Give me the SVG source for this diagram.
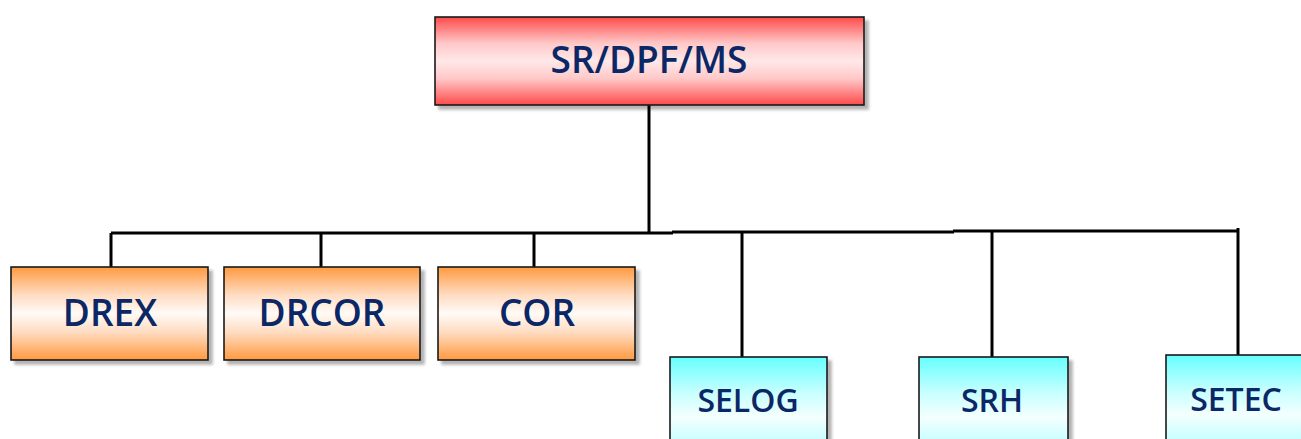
<svg xmlns="http://www.w3.org/2000/svg" width="1301" height="439" viewBox="0 0 1301 439">
  <defs>
    <linearGradient id="gRed" x1="0" y1="0" x2="0" y2="1">
      <stop offset="0" stop-color="#ff4a4a"/>
      <stop offset="0.3" stop-color="#ffc8c8"/>
      <stop offset="0.5" stop-color="#ffe8e8"/>
      <stop offset="0.7" stop-color="#ffc8c8"/>
      <stop offset="1" stop-color="#ff4a4a"/>
    </linearGradient>
    <linearGradient id="gOrange" x1="0" y1="0" x2="0" y2="1">
      <stop offset="0" stop-color="#ff9a40"/>
      <stop offset="0.3" stop-color="#ffdcc2"/>
      <stop offset="0.5" stop-color="#fffaf6"/>
      <stop offset="0.7" stop-color="#ffdcc2"/>
      <stop offset="1" stop-color="#ff9a40"/>
    </linearGradient>
    <linearGradient id="gCyanBox" x1="0" y1="0" x2="0" y2="1">
      <stop offset="0" stop-color="#66ffff"/>
      <stop offset="0.3" stop-color="#c8ffff"/>
      <stop offset="0.5" stop-color="#f4ffff"/>
      <stop offset="0.7" stop-color="#c8ffff"/>
      <stop offset="1" stop-color="#66ffff"/>
    </linearGradient>
    <filter id="shadow" x="-10%" y="-10%" width="130%" height="130%">
      <feGaussianBlur in="SourceAlpha" stdDeviation="1.5"/>
      <feOffset dx="4" dy="4" result="b"/>
      <feComponentTransfer><feFuncA type="linear" slope="0.3"/></feComponentTransfer>
      <feMerge><feMergeNode/><feMergeNode in="SourceGraphic"/></feMerge>
    </filter>
  </defs>
  <style>
    .box { stroke: #1a1a1a; stroke-width: 1.6; filter: url(#shadow); }
    .lbl { font-family: "Open Sans", "DejaVu Sans", sans-serif; font-weight: 600; fill: #0b2766; text-anchor: middle; }
    .conn { stroke: #000; stroke-width: 3; fill: none; }
  </style>

  <g id="connectors">
    <line class="conn" x1="649" y1="105" x2="649" y2="233"/>
    <line class="conn" x1="111" y1="233" x2="673" y2="233"/>
    <line class="conn" x1="672" y1="232" x2="954" y2="232"/>
    <line class="conn" x1="953" y1="231" x2="1239" y2="231"/>
    <line class="conn" x1="111" y1="233" x2="111" y2="267"/>
    <line class="conn" x1="321" y1="233" x2="321" y2="267"/>
    <line class="conn" x1="534" y1="233" x2="534" y2="267"/>
    <line class="conn" x1="742" y1="232" x2="742" y2="357"/>
    <line class="conn" x1="992" y1="231" x2="992" y2="357"/>
    <line class="conn" x1="1238" y1="228" x2="1238" y2="355"/>
  </g>

  <g id="node-srdpfms">
    <rect class="box" x="435" y="17" width="429" height="88" fill="url(#gRed)"/>
    <text class="lbl" x="649" y="73" font-size="37">SR/DPF/MS</text>
  </g>

  <g id="node-drex">
    <rect class="box" x="11" y="267" width="197" height="93" fill="url(#gOrange)"/>
    <text class="lbl" x="110" y="326" font-size="37">DREX</text>
  </g>

  <g id="node-drcor">
    <rect class="box" x="224" y="267" width="196" height="93" fill="url(#gOrange)"/>
    <text class="lbl" x="322" y="326" font-size="37">DRCOR</text>
  </g>

  <g id="node-cor">
    <rect class="box" x="438" y="267" width="197" height="93" fill="url(#gOrange)"/>
    <text class="lbl" x="537" y="326" font-size="37">COR</text>
  </g>

  <g id="node-selog">
    <rect class="box" x="670" y="357" width="157" height="120" fill="url(#gCyanBox)"/>
    <text class="lbl" x="748" y="412" font-size="32">SELOG</text>
  </g>

  <g id="node-srh">
    <rect class="box" x="919" y="357" width="149" height="120" fill="url(#gCyanBox)"/>
    <text class="lbl" x="992" y="412" font-size="32">SRH</text>
  </g>

  <g id="node-setec">
    <rect class="box" x="1166" y="355" width="150" height="120" fill="url(#gCyanBox)"/>
    <text class="lbl" x="1236" y="411" font-size="32">SETEC</text>
  </g>
</svg>
